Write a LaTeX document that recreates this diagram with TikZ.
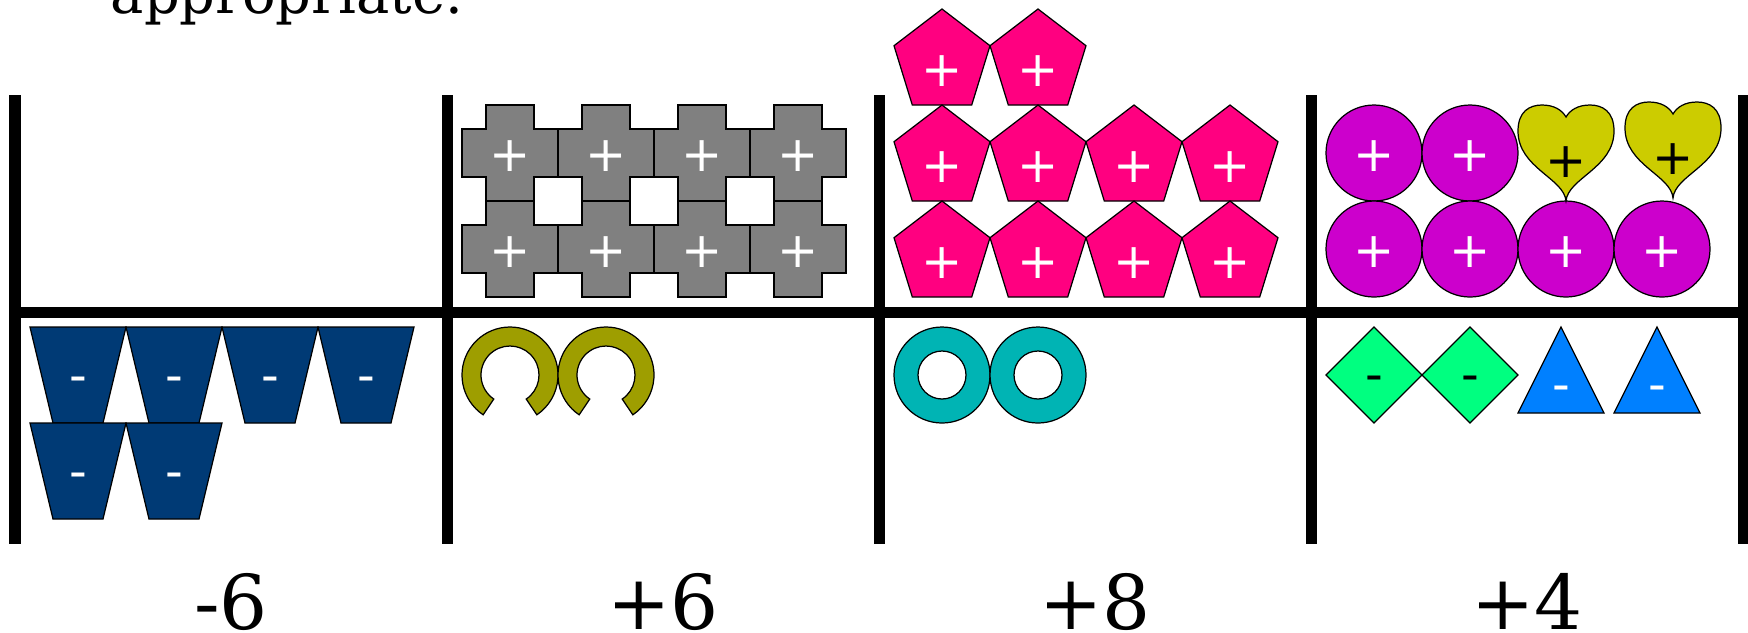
\documentclass[tikz,border=0pt]{standalone}
\usepackage{fontspec}
\setmainfont{DejaVu Serif}
\newfontfamily\signfont{DejaVu Sans}

\definecolor{tilenavy}{RGB}{0,58,117}
\definecolor{tilegray}{RGB}{128,128,128}
\definecolor{tileolive}{RGB}{158,158,0}
\definecolor{tilepink}{RGB}{255,0,128}
\definecolor{tileteal}{RGB}{0,180,180}
\definecolor{tilemagenta}{RGB}{204,0,204}
\definecolor{tileyellow}{RGB}{204,204,0}
\definecolor{tilegreen}{RGB}{0,255,128}
\definecolor{tileblue}{RGB}{0,128,255}

\tikzset{
  tile/.style={draw=black, line width=0.35pt},
  sign/.style={font=\signfont\fontsize{14pt}{16pt}\selectfont, text=white, anchor=base, inner sep=0pt},
  bar/.style={line width=0.11cm},
  total/.style={font=\fontsize{21.5pt}{24pt}\selectfont, anchor=base, inner sep=0pt}
}

\begin{document}
\begin{tikzpicture}[x=0.01cm, y=-0.01cm]
	\useasboundingbox (0,0) rectangle (1748,632);
	\clip (0,0) rectangle (1748,632);
	
	% end of the line above
	\node[anchor=base west, inner sep=0pt, font=\fontsize{15.9pt}{18pt}\selectfont] (txt) at (110,13) {appropriate.};
	
	% the frame
	\draw[bar] (9.5,312) -- (1748,312);
	\foreach \x in {15,447,879,1311,1743} {
		\draw[bar] (\x,95) -- (\x,544);
	}
	
	% column 1: six negative trapezoids
	\foreach \x/\y [count=\n from 1] in {78/375,174/375,270/375,366/375,78/471,174/471} {
		\filldraw[tile, fill=tilenavy, shift={(\x,\y)}] (-48,-48) -- (48,-48) -- (25,48) -- (-25,48) -- cycle;
		\node[sign] (n\n) at (\x,\y+17.5) {-};
	}
	
	% column 2: eight crosses, two broken rings
	\foreach \x/\y [count=\n from 1] in {510/153,606/153,702/153,798/153,510/249,606/249,702/249,798/249} {
		\filldraw[tile, fill=tilegray, shift={(\x,\y)}] (-24,-48) -- (24,-48) -- (24,-24) -- (48,-24) -- (48,24) -- (24,24)
			-- (24,48) -- (-24,48) -- (-24,24) -- (-48,24) -- (-48,-24) -- (-24,-24) -- cycle;
		\node[sign] (c\n) at (\x,\y+18.6) {+};
	}
	\foreach \x in {510,606} {
		\filldraw[tile, fill=tileolive, shift={(\x,375)}] (124:48) arc[start angle=124, end angle=416, radius=48]
			-- (56:29) arc[start angle=416, end angle=124, radius=29] -- cycle;
	}
	
	% column 3: ten pentagons, two rings
	\foreach \x/\y [count=\n from 1] in {942/57,1038/57,942/153,1038/153,1134/153,1230/153,942/249,1038/249,1134/249,1230/249} {
		\filldraw[tile, fill=tilepink, shift={(\x,\y)}] (0,-48) -- (48,-11.3) -- (29.7,48) -- (-29.7,48) -- (-48,-11.3) -- cycle;
		\node[sign] (p\n) at (\x,\y+29.6) {+};
	}
	\foreach \x in {942,1038} {
		\filldraw[tile, fill=tileteal, even odd rule] (\x,375) circle[radius=48] (\x,375) circle[radius=24];
	}
	
	% column 4: circles and hearts on top, diamonds and triangles below
	\foreach \x/\y [count=\n from 1] in {1374/153,1470/153,1374/249,1470/249,1566/249,1662/249} {
		\filldraw[tile, fill=tilemagenta] (\x,\y) circle[radius=48];
		\node[sign] (o\n) at (\x,\y+18.6) {+};
	}
	\foreach \x/\y [count=\n from 1] in {1566/153,1673/150} {
		\filldraw[tile, fill=tileyellow, shift={(\x,\y)}] (0,48) .. controls (-2,25) and (-48,15) .. (-48,-22)
			.. controls (-48,-42) and (-36,-48) .. (-24,-48) .. controls (-12,-48) and (-4,-43) .. (0,-36)
			.. controls (4,-43) and (12,-48) .. (24,-48) .. controls (36,-48) and (48,-42) .. (48,-22)
			.. controls (48,15) and (2,25) .. (0,48) -- cycle;
		\node[sign, text=black] (h\n) at (\x,\y+24) {+};
	}
	\foreach \x [count=\n from 1] in {1374,1470} {
		\filldraw[tile, fill=tilegreen, shift={(\x,375)}] (0,-48) -- (48,0) -- (0,48) -- (-48,0) -- cycle;
		\node[sign, text=black] (d\n) at (\x,391.5) {-};
	}
	\foreach \x [count=\n from 1] in {1561,1657} {
		\filldraw[tile, fill=tileblue, shift={(\x,370)}] (0,-43) -- (43,43) -- (-43,43) -- cycle;
		\node[sign] (t\n) at (\x,401.5) {-};
	}
	
	% totals
	\foreach \x/\v [count=\n from 1] in {231/-6,663/+6,1095/+8,1527/+4} {
		\node[total] (sum\n) at (\x,629) {\v};
	}
\end{tikzpicture}
\end{document}
